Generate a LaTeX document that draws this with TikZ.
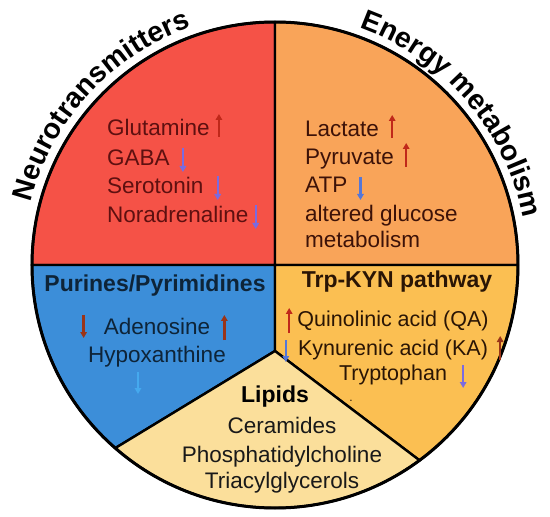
\documentclass[tikz,border=0pt]{standalone}
\usepackage{fontspec}
\setmainfont{Liberation Sans}
\usetikzlibrary{arrows.meta,decorations.text}
\definecolor{ntred}{HTML}{F55247}
\definecolor{ntink}{HTML}{5E1010}
\definecolor{enorange}{HTML}{F9A459}
\definecolor{enink}{HTML}{3D1208}
\definecolor{publue}{HTML}{3C8ED9}
\definecolor{puink}{HTML}{0E2438}
\definecolor{kyngold}{HTML}{FBBF52}
\definecolor{kynink}{HTML}{2A1505}
\definecolor{lipcream}{HTML}{FBDF9B}
\definecolor{upred}{HTML}{C0281A}
\definecolor{upbrown}{HTML}{9A3418}
\definecolor{dnviolet}{HTML}{7B6BE0}
\definecolor{dnblue}{HTML}{5577D8}
\definecolor{dnsky}{HTML}{45A9EE}
\newcommand{\arctitle}{\bfseries\fontsize{28.5}{30}\selectfont}
\tikzset{
  >={Triangle[length=6pt,width=6.5pt]},
  region/.style={draw=black,line width=2.4pt,line join=round},
  itemtxt/.style={font=\fontsize{22.5}{27}\selectfont,inner sep=0pt},
  headtxt/.style={font=\bfseries\fontsize{23}{27}\selectfont,inner sep=0pt},
  uparr/.style={->,line width=2.4pt,draw=upred},
  dnarr/.style={->,line width=2.4pt,draw=dnviolet},
}
\begin{document}
\begin{tikzpicture}[x=1pt,y=1pt]
  \useasboundingbox (-275,-252) rectangle (275,265);
  % sectors of the wheel
  \coordinate (ctr) at (0,0);
  \coordinate (tip) at (0,-86);
  \filldraw[region,fill=ntred] (ctr) -- (180:243) arc[start angle=180,end angle=90,radius=243] -- cycle;
  \filldraw[region,fill=enorange] (ctr) -- (90:243) arc[start angle=90,end angle=0,radius=243] -- cycle;
  \filldraw[region,fill=publue] (ctr) -- (180:243) arc[start angle=180,end angle=228.9,radius=243] -- (tip) -- cycle;
  \filldraw[region,fill=kyngold] (ctr) -- (0:243) arc[start angle=0,end angle=-53.5,radius=243] -- (tip) -- cycle;
  \filldraw[region,fill=lipcream] (tip) -- (228.9:243) arc[start angle=228.9,end angle=306.5,radius=243] -- cycle;
  \draw[line width=3pt] (ctr) circle[radius=243];
  % curved titles
  \path[decorate,decoration={text along path,text align=center,
    text={|\arctitle|Neurotransmitters}}]
    (176:252) arc[start angle=176,end angle=99,radius=252];
  \path[decorate,decoration={text along path,text align=center,
    text={|\arctitle|Energy metabolism}}]
    (79:252) arc[start angle=79,end angle=2,radius=252];
  % neurotransmitters
  \node[itemtxt,text=ntink,anchor=base west] (glu) at (-168,129) {Glutamine};
  \node[itemtxt,text=ntink,anchor=base west] (gaba) at (-168,99) {GABA};
  \node[itemtxt,text=ntink,anchor=base west] (sero) at (-168,71) {Serotonin};
  \node[itemtxt,text=ntink,anchor=base west] (nora) at (-168,42) {Noradrenaline};
  \draw[uparr] ([xshift=9]glu.base east) ++(0,-1) -- ++(0,23);
  \draw[dnarr] ([xshift=13]gaba.base east) ++(0,18) -- ++(0,-24);
  \draw[dnarr] ([xshift=14]sero.base east) ++(0,18) -- ++(0,-24);
  \draw[dnarr] ([xshift=7]nora.base east) ++(0,18) -- ++(0,-24);
  % energy metabolism
  \node[itemtxt,text=enink,anchor=base west] (lac) at (30,128) {Lactate};
  \node[itemtxt,text=enink,anchor=base west] (pyr) at (30,100) {Pyruvate};
  \node[itemtxt,text=enink,anchor=base west] (atp) at (30,72) {ATP};
  \node[itemtxt,text=enink,anchor=base west] (glc) at (30,43) {altered glucose};
  \node[itemtxt,text=enink,anchor=base west] (glcb) at (30,17) {metabolism};
  \draw[uparr] ([xshift=13]lac.base east) ++(0,-1) -- ++(0,23);
  \draw[uparr] ([xshift=12]pyr.base east) ++(0,-2) -- ++(0,24);
  \draw[dnarr,draw=dnblue] ([xshift=13]atp.base east) ++(0,16) -- ++(0,-23);
  % purines / pyrimidines
  \node[headtxt,text=puink,anchor=base] (purh) at (-120,-27) {Purines/Pyrimidines};
  \node[itemtxt,text=puink,anchor=base] (ade) at (-118,-70) {Adenosine};
  \node[itemtxt,text=puink,anchor=base] (hyp) at (-118,-97) {Hypoxanthine};
  \draw[dnarr,draw=upbrown] ([xshift=-20]ade.base west) ++(0,20) -- ++(0,-23);
  \draw[uparr,draw=upbrown] ([xshift=14]ade.base east) ++(0,-5) -- ++(0,25);
  \draw[dnarr,draw=dnsky] ([xshift=-19]hyp.base) ++(0,-10) -- ++(0,-22);
  % trp-kyn pathway
  \node[headtxt,text=kynink,anchor=base] (kynh) at (122,-23) {Trp-KYN pathway};
  \node[itemtxt,text=kynink,font=\fontsize{21.5}{26}\selectfont,anchor=base] (qa) at (118,-62) {Quinolinic acid (QA)};
  \node[itemtxt,text=kynink,font=\fontsize{21.5}{26}\selectfont,anchor=base] (ka) at (118,-90) {Kynurenic acid (KA)};
  \node[itemtxt,text=kynink,font=\fontsize{21.5}{26}\selectfont,anchor=base] (trp) at (118,-115) {Tryptophan};
  \node[itemtxt,text=kynink,font=\fontsize{12}{14}\selectfont,anchor=base] (dot) at (76,-136) {.};
  \draw[uparr] ([xshift=-8]qa.base west) ++(0,-6) -- ++(0,25);
  \draw[dnarr,draw=dnblue] ([xshift=-12]ka.base west) ++(0,15) -- ++(0,-22);
  \draw[uparr,draw=upbrown] ([xshift=12]ka.base east) ++(0,-5) -- ++(0,24);
  \draw[dnarr] ([xshift=16]trp.base east) ++(0,15) -- ++(0,-23);
  % lipids
  \node[headtxt,text=black,anchor=base] (liph) at (0,-137) {Lipids};
  \node[itemtxt,text=black!90,anchor=base] (cer) at (7,-168) {Ceramides};
  \node[itemtxt,text=black!90,anchor=base] (pc) at (7,-197) {Phosphatidylcholine};
  \node[itemtxt,text=black!90,anchor=base] (tag) at (7,-223) {Triacylglycerols};
\end{tikzpicture}
\end{document}
